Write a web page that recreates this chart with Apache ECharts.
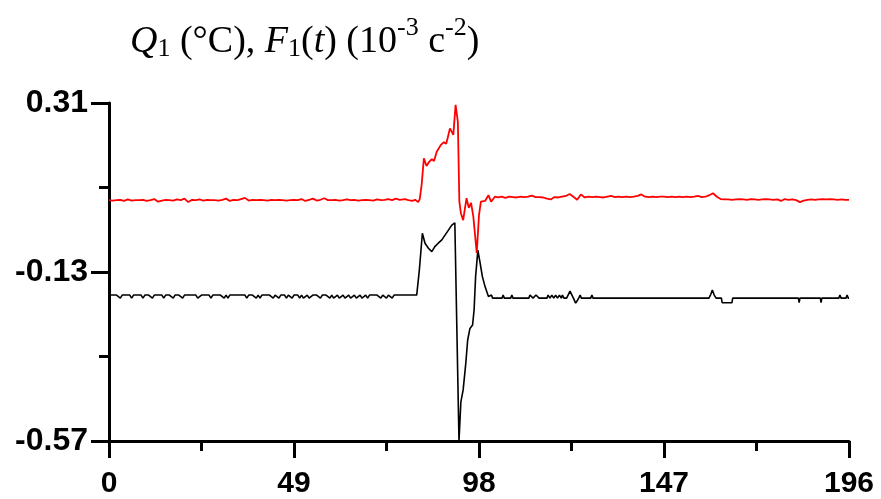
<!DOCTYPE html>
<html><head><meta charset="utf-8">
<script src="https://cdn.jsdelivr.net/npm/echarts@6/dist/echarts.min.js"></script>
<style>html,body{margin:0;padding:0;background:#fff}#c{width:881px;height:499px}</style>
</head><body><div id="c"></div>
<script>
// ---- axis ticks ----
const xMin = 0, xMax = 196, xInterval = 49;
const yMin = -0.57, yMax = 0.31;
const yTickLabels = [-0.57, -0.13, 0.31];
const yMinorTicks = [-0.35, 0.09];

// ---- red series Q1 : baseline samples x = 0..77 (step 1) ----
const redPreStart = 0, redPreStep = 1;
const redPre = [
 .057,.056,.057,.058,.055,.059,.056,.057,.057,.058,
 .055,.057,.060,.053,.056,.058,.057,.056,.059,.057,
 .061,.052,.058,.057,.059,.056,.058,.057,.057,.056,
 .058,.061,.055,.058,.057,.060,.063,.056,.058,.057,
 .058,.057,.056,.058,.057,.058,.057,.056,.057,.058,
 .057,.060,.055,.058,.061,.056,.058,.062,.057,.057,
 .058,.056,.057,.059,.057,.058,.056,.057,.058,.057,
 .056,.059,.057,.058,.060,.057,.061,.058
];
// event region [x, value]
const redEvent = [
 [78.4,0.060],[79.3,0.057],[80.3,0.055],[81.1,0.058],[81.9,0.052],[82.3,0.060],
 [82.8,0.0965],[83.4,0.166],[84.1,0.146],[84.8,0.157],[85.5,0.164],[86.1,0.159],
 [86.8,0.183],[87.2,0.180],[87.9,0.201],[88.3,0.198],[88.7,0.208],[89.3,0.204],
 [89.7,0.219],[90.3,0.244],[90.8,0.235],[91.2,0.227],[91.8,0.305],[92.4,0.261],
 [92.8,0.053],[93.2,0.023],[93.8,0.005],[94.7,0.062],[95.3,0.037],[95.9,0.050],
 [96.5,0.014],[97.4,-0.0805],[98.0,0.018],[98.5,0.053],[99.6,0.055],[100.5,0.070],
 [101.2,0.053],[102.2,0.066]
];
// x = 103..196 (step 1)
const redPostStart = 103, redPostStep = 1;
const redPost = [
 .064,.066,.063,.066,.065,.064,.066,.065,.066,.069,
 .065,.065,.064,.061,.059,.065,.064,.066,.068,.073,
 .066,.058,.072,.064,.066,.065,.066,.065,.064,.066,
 .068,.065,.066,.065,.066,.065,.066,.068,.072,.066,
 .065,.066,.065,.066,.066,.065,.066,.065,.066,.065,
 .066,.065,.066,.068,.065,.066,.070,.075,.066,.060,
 .059,.059,.058,.059,.060,.059,.058,.060,.059,.058,
 .059,.060,.059,.058,.059,.055,.060,.058,.059,.057,
 .052,.056,.058,.059,.058,.059,.060,.059,.060,.059,
 .058,.059,.058,.058
];

// ---- black series F1(t) : baseline samples x = 0..81.5 (step 0.5) ----
const blackPreStart = 0, blackPreStep = 0.5;
const blackPre = [
 -.19,-.19,-.19,-.19,-.19,-.19,-.198,-.19,-.19,-.19,
 -.19,-.19,-.198,-.19,-.19,-.19,-.19,-.19,-.198,-.19,
 -.19,-.19,-.19,-.198,-.19,-.19,-.19,-.19,-.19,-.198,
 -.19,-.19,-.19,-.19,-.198,-.19,-.19,-.19,-.19,-.198,
 -.19,-.19,-.19,-.19,-.19,-.19,-.19,-.198,-.198,-.19,
 -.19,-.19,-.19,-.19,-.198,-.19,-.19,-.19,-.19,-.19,
 -.19,-.198,-.19,-.198,-.19,-.19,-.19,-.19,-.19,-.19,
 -.19,-.19,-.19,-.198,-.19,-.19,-.19,-.19,-.198,-.19,
 -.198,-.19,-.19,-.19,-.19,-.19,-.19,-.198,-.19,-.19,
 -.198,-.19,-.19,-.19,-.198,-.19,-.19,-.198,-.19,-.19,
 -.19,-.198,-.19,-.198,-.198,-.19,-.198,-.198,-.19,-.19,
 -.19,-.19,-.198,-.19,-.19,-.19,-.19,-.198,-.19,-.198,
 -.198,-.19,-.198,-.198,-.19,-.198,-.198,-.19,-.198,-.198,
 -.19,-.198,-.198,-.19,-.198,-.198,-.19,-.198,-.19,-.19,
 -.19,-.19,-.19,-.19,-.198,-.19,-.19,-.198,-.19,-.19,
 -.198,-.19,-.19,-.19,-.19,-.19,-.19,-.19,-.19,-.19,
 -.19,-.19,-.19,-.19
];
const blackEvent = [
 [81.9,-0.190],[82.2,-0.125],[83.0,-0.029],[83.7,-0.055],[84.6,-0.068],[85.5,-0.077],
 [86.3,-0.064],[87.2,-0.055],[88.1,-0.047],[89.0,-0.034],[89.9,-0.021],[90.8,-0.008],
 [91.6,-0.002],[91.9,-0.002],[92.7,-0.570],[93.2,-0.468],[93.8,-0.437],[94.5,-0.368],
 [95.0,-0.307],[95.6,-0.277],[96.3,-0.268],[96.7,-0.229],[97.1,-0.142],[97.7,-0.073],
 [98.3,-0.107],[98.9,-0.142],[99.6,-0.168],[100.5,-0.194]
];
const blackPost = [
 [101.0,-0.198],[101.3,-0.190],[101.6,-0.198],
 [104.1,-0.198],[104.4,-0.190],[104.7,-0.198],
 [106.4,-0.198],[106.7,-0.190],[107.0,-0.198],
 [111.2,-0.198],[111.5,-0.190],[112.0,-0.190],[112.3,-0.198],[112.8,-0.198],[113.1,-0.190],[113.6,-0.190],[113.9,-0.198],
 [116.0,-0.198],[116.3,-0.190],[116.8,-0.198],[117.3,-0.190],[117.8,-0.198],[118.3,-0.190],[118.8,-0.198],[119.3,-0.190],[119.8,-0.198],[120.1,-0.190],[120.5,-0.198],
 [121.2,-0.198],[121.6,-0.190],[122.1,-0.180],[122.6,-0.185],[123.0,-0.198],[123.6,-0.211],[124.0,-0.205],[124.4,-0.198],[124.8,-0.190],[125.1,-0.198],
 [127.6,-0.198],[127.9,-0.190],[128.2,-0.198],
 [158.9,-0.198],[159.4,-0.188],[159.8,-0.177],[160.3,-0.190],[160.8,-0.198],[162.2,-0.198],[162.4,-0.210],[165.0,-0.210],[165.2,-0.198],
 [182.6,-0.198],[182.8,-0.210],[183.0,-0.198],
 [188.4,-0.198],[188.6,-0.210],[188.8,-0.198],
 [193.3,-0.198],[193.6,-0.190],[193.9,-0.198],
 [195.2,-0.198],[195.5,-0.190],[195.8,-0.198],[196.0,-0.198]
];

function build(pre, preStart, preStep, event, post, postStart, postStep) {
  const out = pre.map((v, i) => [preStart + i * preStep, v]);
  event.forEach(p => out.push(p));
  if (postStart === null) post.forEach(p => out.push(p));
  else post.forEach((v, i) => out.push([postStart + i * postStep, v]));
  return out;
}
const redData = build(redPre, redPreStart, redPreStep, redEvent, redPost, redPostStart, redPostStep);
const blackData = build(blackPre, blackPreStart, blackPreStep, blackEvent, blackPost, null, null);

const chart = echarts.init(document.getElementById('c'), null, {renderer: 'canvas'});
const serif = "'Liberation Serif','Times New Roman',serif";
const sans = "'Liberation Sans',Arial,sans-serif";
chart.setOption({
  animation: false,
  backgroundColor: '#fff',
  title: {
    left: 130, top: 15, padding: 0,
    text: '{qi|Q}{sub|1}{n| (°C), }{qi|F}{sub|1}{n|(}{qi|t}{n|) (10}{sup|-3}{n| c}{sup|-2}{n|)}',
    textStyle: {
      fontWeight: 'normal',
      rich: {
        n: {fontFamily: serif, fontSize: 38, fontWeight: 'normal', color: '#000'},
        qi: {fontFamily: serif, fontSize: 38, fontWeight: 'normal', fontStyle: 'italic', color: '#000'},
        sub: {fontFamily: serif, fontSize: 26, fontWeight: 'normal', color: '#000', padding: [14, 0, 0, 0]},
        sup: {fontFamily: serif, fontSize: 26, fontWeight: 'normal', color: '#000', padding: [0, 0, 29, 0]}
      }
    }
  },
  grid: {left: 109, right: 32, top: 103, bottom: 58, containLabel: false},
  xAxis: {
    type: 'value', min: xMin, max: xMax, interval: xInterval,
    axisLine: {show: true, onZero: false, lineStyle: {color: '#000', width: 3}},
    axisTick: {show: true, length: 17, lineStyle: {color: '#000', width: 3}},
    minorTick: {show: true, splitNumber: 2, length: 10, lineStyle: {color: '#000', width: 3}},
    axisLabel: {margin: 28, color: '#000', fontFamily: sans, fontWeight: 'bold', fontSize: 30},
    splitLine: {show: false}
  },
  yAxis: [{
    type: 'value', min: yMin, max: yMax,
    axisLine: {show: true, onZero: false, lineStyle: {color: '#000', width: 3}},
    axisTick: {show: true, length: 18, customValues: yTickLabels, lineStyle: {color: '#000', width: 3}},
    axisLabel: {margin: 21, customValues: yTickLabels, formatter: v => v.toFixed(2),
      color: '#000', fontFamily: sans, fontWeight: 'bold', fontSize: 32},
    splitLine: {show: false}
  }, {
    type: 'value', min: yMin, max: yMax, position: 'left',
    axisLine: {show: false, onZero: false},
    axisTick: {show: true, length: 10, customValues: yMinorTicks, lineStyle: {color: '#000', width: 3}},
    axisLabel: {show: false},
    splitLine: {show: false}
  }],
  series: [{
    type: 'line', data: redData, yAxisIndex: 0, showSymbol: false, symbol: 'none',
    lineStyle: {color: '#ff0000', width: 1.8}, z: 3
  }, {
    type: 'line', data: blackData, yAxisIndex: 0, showSymbol: false, symbol: 'none',
    lineStyle: {color: '#000', width: 1.6}, z: 2
  }]
});
</script></body></html>
